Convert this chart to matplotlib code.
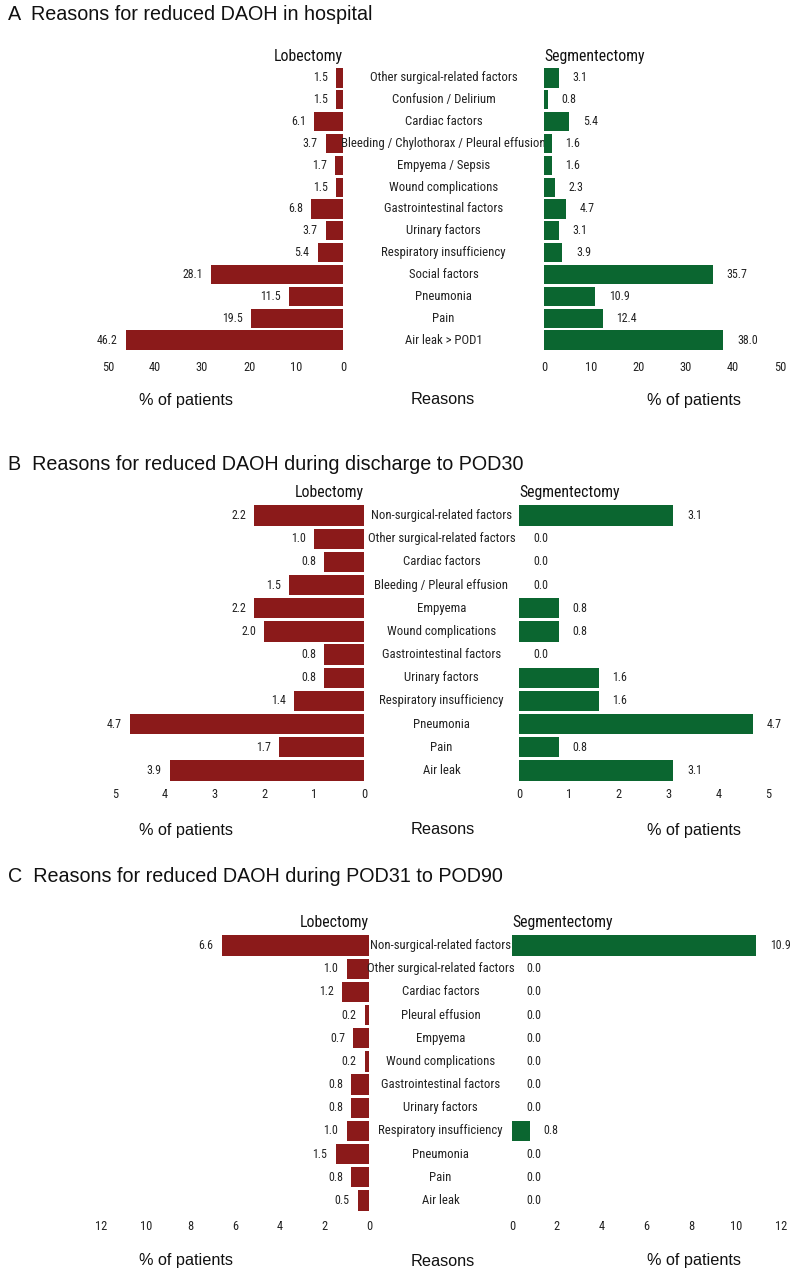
import matplotlib
matplotlib.use("Agg")
import matplotlib.pyplot as plt
from matplotlib import font_manager
from matplotlib.transforms import blended_transform_factory

# ---------------- data ----------------
cats_a = ["Other surgical-related factors", "Confusion / Delirium", "Cardiac factors",
          "Bleeding / Chylothorax / Pleural effusion", "Empyema / Sepsis", "Wound complications",
          "Gastrointestinal factors", "Urinary factors", "Respiratory insufficiency",
          "Social factors", "Pneumonia", "Pain", "Air leak > POD1"]
lob_a = [1.5, 1.5, 6.1, 3.7, 1.7, 1.5, 6.8, 3.7, 5.4, 28.1, 11.5, 19.5, 46.2]
seg_a = [3.1, 0.8, 5.4, 1.6, 1.6, 2.3, 4.7, 3.1, 3.9, 35.7, 10.9, 12.4, 38.0]
ticks_a = [0, 10, 20, 30, 40, 50]

cats_b = ["Non-surgical-related factors", "Other surgical-related factors", "Cardiac factors",
          "Bleeding / Pleural effusion", "Empyema", "Wound complications",
          "Gastrointestinal factors", "Urinary factors", "Respiratory insufficiency",
          "Pneumonia", "Pain", "Air leak"]
lob_b = [2.2, 1.0, 0.8, 1.5, 2.2, 2.0, 0.8, 0.8, 1.4, 4.7, 1.7, 3.9]
seg_b = [3.1, 0.0, 0.0, 0.0, 0.8, 0.8, 0.0, 1.6, 1.6, 4.7, 0.8, 3.1]
ticks_b = [0, 1, 2, 3, 4, 5]

cats_c = ["Non-surgical-related factors", "Other surgical-related factors", "Cardiac factors",
          "Pleural effusion", "Empyema", "Wound complications",
          "Gastrointestinal factors", "Urinary factors", "Respiratory insufficiency",
          "Pneumonia", "Pain", "Air leak"]
lob_c = [6.6, 1.0, 1.2, 0.2, 0.7, 0.2, 0.8, 0.8, 1.0, 1.5, 0.8, 0.5]
seg_c = [10.9, 0.0, 0.0, 0.0, 0.0, 0.0, 0.0, 0.0, 0.8, 0.0, 0.0, 0.0]
ticks_c = [0, 2, 4, 6, 8, 10, 12]

titles = ["A  Reasons for reduced DAOH in hospital",
          "B  Reasons for reduced DAOH during discharge to POD30",
          "C  Reasons for reduced DAOH during POD31 to POD90"]

# ---------------- style ----------------
RED = "#8b1a1a"
GREEN = "#0b6630"
REG = ["Liberation Sans", "DejaVu Sans"]

# look for a condensed sans font, fall back to Liberation Sans
names = {f.name for f in font_manager.fontManager.ttflist}
NARROW = REG
NSTRETCH = "normal"
for cand in ["Liberation Sans Narrow", "Arial Narrow", "Roboto Condensed",
             "Open Sans Condensed", "DejaVu Sans Condensed"]:
    if cand in names:
        NARROW = [cand] + REG
        break
else:
    cond = [f for f in font_manager.fontManager.ttflist
            if f.name == "DejaVu Sans" and str(f.stretch) in ("condensed", "semi-condensed", "75", "87")
            and f.style == "normal" and f.weight in (400, "normal")]
    if cond:
        NARROW = ["DejaVu Sans"]
        NSTRETCH = "condensed"

W, H = 800, 1277
fig = plt.figure(figsize=(W / 100, H / 100), dpi=100)
fig.patch.set_facecolor("white")
renderer = fig.canvas.get_renderer()


def fit_size(s, target_px, family, stretch="normal"):
    t = fig.text(0, 0, s, fontsize=10, family=family, fontstretch=stretch)
    w = t.get_window_extent(renderer).width
    t.remove()
    return 10 * target_px / w


FS_CAT = fit_size("Other surgical-related factors", 147, NARROW, NSTRETCH)
FS_VAL = fit_size("46.2", 20.5, NARROW, NSTRETCH)
FS_TICK = fit_size("10", 12, NARROW, NSTRETCH)
FS_HEAD = fit_size("Segmentectomy", 100, NARROW, NSTRETCH)
FS_TITLE = fit_size(titles[0], 364, REG)
FS_LAB = fit_size("% of patients", 94, REG)


def px_axes(x0, x1, y0, y1):
    return fig.add_axes([x0 / W, 1 - y1 / H, (x1 - x0) / W, (y1 - y0) / H])


def fy(y):
    return 1 - y / H


panels = [
    dict(cats=cats_a, lob=lob_a, seg=seg_a, ticks=ticks_a, lx=(108, 343), rx=(544, 780),
         y=(67, 351), ty=15, ly=400, pad=7.0, title=titles[0]),
    dict(cats=cats_b, lob=lob_b, seg=seg_b, ticks=ticks_b, lx=(115, 364), rx=(519, 768),
         y=(504, 782), ty=465, ly=830, pad=4.5, title=titles[1]),
    dict(cats=cats_c, lob=lob_c, seg=seg_c, ticks=ticks_c, lx=(101, 369), rx=(512, 781),
         y=(934, 1212), ty=876, ly=1261, pad=5.5, title=titles[2]),
]

TXT = "#222222"
for p in panels:
    n = len(p["cats"])
    pos = list(range(n))
    tmax = p["ticks"][-1]

    axl = px_axes(p["lx"][0], p["lx"][1], p["y"][0], p["y"][1])
    axr = px_axes(p["rx"][0], p["rx"][1], p["y"][0], p["y"][1])

    axl.barh(pos, p["lob"], height=0.88, color=RED, edgecolor="none")
    axr.barh(pos, p["seg"], height=0.88, color=GREEN, edgecolor="none")

    axl.set_xlim(tmax, 0)
    axr.set_xlim(0, tmax)
    for ax in (axl, axr):
        ax.set_ylim(n - 0.5, -0.5)
        ax.set_yticks([])
        ax.set_xticks(p["ticks"])
        ax.set_xticklabels([str(t) for t in p["ticks"]], fontsize=FS_TICK, family=NARROW,
                           fontstretch=NSTRETCH, color=TXT)
        ax.tick_params(axis="x", length=0, pad=p["pad"])
        for s in ax.spines.values():
            s.set_visible(False)
        ax.set_facecolor("none")

    for i, v in enumerate(p["lob"]):
        axl.annotate(f"{v:.1f}", (v, i), xytext=(-6, 0), textcoords="offset points",
                     ha="right", va="center", fontsize=FS_VAL, family=NARROW,
                     fontstretch=NSTRETCH, color=TXT)
    for i, v in enumerate(p["seg"]):
        axr.annotate(f"{v:.1f}", (v, i), xytext=(10, 0), textcoords="offset points",
                     ha="left", va="center", fontsize=FS_VAL, family=NARROW,
                     fontstretch=NSTRETCH, color=TXT)

    tr = blended_transform_factory(fig.transFigure, axl.transData)
    cx = (p["lx"][1] + p["rx"][0]) / 2 / W
    for i, c in enumerate(p["cats"]):
        axl.text(cx, i, c, transform=tr, ha="center", va="center", fontsize=FS_CAT,
                 family=NARROW, fontstretch=NSTRETCH, color=TXT, clip_on=False)

    hy = 1.0 + 11 / (p["y"][1] - p["y"][0])
    axl.text(1.0, hy, "Lobectomy", transform=axl.transAxes, ha="right", va="center",
             fontsize=FS_HEAD, family=NARROW, fontstretch=NSTRETCH, color="#111111")
    axr.text(0.0, hy, "Segmentectomy", transform=axr.transAxes, ha="left", va="center",
             fontsize=FS_HEAD, family=NARROW, fontstretch=NSTRETCH, color="#111111")

    fig.text(8 / W, fy(p["ty"]), p["title"], ha="left", va="center", fontsize=FS_TITLE,
             family=REG, color="#111111")
    fig.text(186 / W, fy(p["ly"]), "% of patients", ha="center", va="center", fontsize=FS_LAB,
             family=REG, color="#111111")
    fig.text(443 / W, fy(p["ly"]), "Reasons", ha="center", va="center", fontsize=FS_LAB,
             family=REG, color="#111111")
    fig.text(694 / W, fy(p["ly"]), "% of patients", ha="center", va="center", fontsize=FS_LAB,
             family=REG, color="#111111")

fig.savefig("out.png", dpi=100, facecolor="white")
